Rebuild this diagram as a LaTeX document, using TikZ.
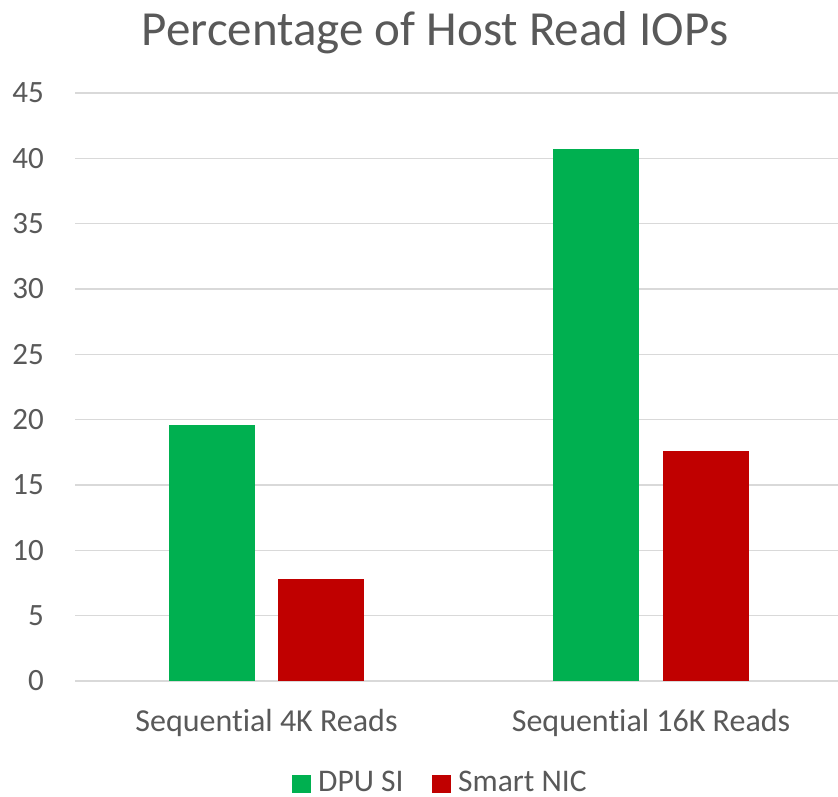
\documentclass[tikz,border=0pt]{standalone}
\usepackage{fontspec}
\setmainfont{Carlito}[Ligatures=NoCommon]
\definecolor{txt}{HTML}{595959}
\definecolor{grid}{HTML}{D9D9D9}
\definecolor{dpu}{HTML}{00B050}
\definecolor{nic}{HTML}{C00000}
\tikzset{
  gridline/.style={draw=grid, line width=1.5pt},
  ticklabel/.style={anchor=east, inner sep=0pt, text=txt, font=\fontsize{31}{36}\selectfont},
  catlabel/.style={anchor=base, inner sep=0pt, text=txt, font=\fontsize{32}{38}\selectfont},
  leglabel/.style={anchor=base west, inner sep=0pt, text=txt, font=\fontsize{31.5}{36}\selectfont},
  titlelabel/.style={anchor=base, inner sep=0pt, text=txt, font=\fontsize{49}{56}\selectfont},
}
\begin{document}
\begin{tikzpicture}[x=1pt,y=-1pt]
\useasboundingbox[fill=white] (0,0) rectangle (838,796);
% gridlines and tick labels
\foreach \v [count=\i from 0] in {0,5,...,45} {
  \pgfmathsetmacro{\yy}{681-\v*13.0667}
  \draw[gridline] (75,\yy) -- (838,\yy);
  \node[ticklabel] (t\i) at (44,\yy) {\v};
}
% bars
\pgfmathsetmacro{\ya}{681-19.6*13.0667}
\pgfmathsetmacro{\yb}{681-7.8*13.0667}
\pgfmathsetmacro{\yc}{681-40.7*13.0667}
\pgfmathsetmacro{\yd}{681-17.6*13.0667}
\fill[dpu] (169,681) rectangle (255,\ya);
\fill[nic] (278,681) rectangle (364,\yb);
\fill[dpu] (553,681) rectangle (639,\yc);
\fill[nic] (663,681) rectangle (749,\yd);
% category labels
\node[catlabel] (c1) at (266.5,731) {Sequential 4K Reads};
\node[catlabel] (c2) at (651,731) {Sequential 16K Reads};
% title
\node[titlelabel] (title) at (435,45) {Percentage of Host Read IOPs};
% legend
\fill[dpu] (292,775) rectangle (311,793);
\node[leglabel] (l1) at (318,791.5) {DPU SI};
\fill[nic] (432,775) rectangle (451,793);
\node[leglabel] (l2) at (458,791.5) {Smart NIC};
\end{tikzpicture}
\end{document}
